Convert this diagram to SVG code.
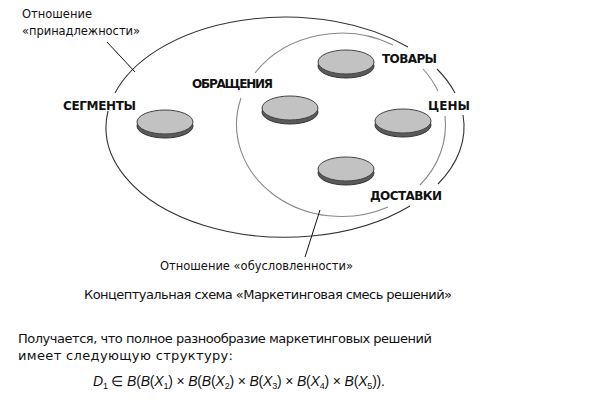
<svg xmlns="http://www.w3.org/2000/svg" width="591" height="413" viewBox="0 0 591 413">
<style>
.outer{fill:none;stroke:#333;stroke-width:1.1}
.inner{fill:none;stroke:#888;stroke-width:1.1}
.ptr{fill:none;stroke:#111;stroke-width:1}
.shadow{fill:#5a5a5a;stroke:#333;stroke-width:1}
.face{fill:#c2c2c2;stroke:#444;stroke-width:1}
.lbl{font-family:"DejaVu Sans",sans-serif;font-weight:bold;font-size:12px;fill:#111}
.ann{font-family:"DejaVu Sans",sans-serif;font-size:11.5px;fill:#111}
.txt{font-family:"DejaVu Sans",sans-serif;font-size:13px;fill:#111}
.fm{font-family:"Liberation Sans",sans-serif;font-size:14px;fill:#111}
.it{font-style:italic}
.sub{font-size:9px}
</style>
<defs>
<g id="disc">
<ellipse class="shadow" cx="0" cy="4" rx="28" ry="12"/>
<ellipse class="face" cx="0" cy="0" rx="28" ry="12"/>
</g>
</defs>
<g id="connectors">
<path class="outer" d="M115,93 A179,110 0 0 1 408,47"/>
<path class="outer" d="M437,69 A179,110 0 0 1 455,93"/>
<path class="outer" d="M463,115 A179,110 0 0 1 438,184"/>
<path class="outer" d="M410,206 A179,110 0 0 1 108,111"/>
<path class="inner" d="M255,73 A105,92 0 0 1 393,45"/>
<path class="inner" d="M423,69 A105,92 0 0 1 438,91"/>
<path class="inner" d="M445,116 A105,92 0 0 1 420,185"/>
<path class="inner" d="M388,207 A105,92 0 0 1 241,98"/>
<line class="ptr" x1="107" y1="42" x2="135" y2="72"/>
<line class="ptr" x1="320" y1="210" x2="305" y2="257"/>
</g>
<g id="segments">
<use href="#disc" x="165" y="122"/>
<text class="lbl" x="63" y="110" textLength="73">СЕГМЕНТЫ</text>
</g>
<g id="obrashcheniya">
<use href="#disc" x="290" y="108"/>
<text class="lbl" x="192" y="88" textLength="81">ОБРАЩЕНИЯ</text>
</g>
<g id="tovary">
<use href="#disc" x="346" y="62"/>
<text class="lbl" x="382" y="63" textLength="55">ТОВАРЫ</text>
</g>
<g id="tseny">
<use href="#disc" x="403" y="121"/>
<text class="lbl" x="428" y="110" textLength="42">ЦЕНЫ</text>
</g>
<g id="dostavki">
<use href="#disc" x="346" y="169"/>
<text class="lbl" x="370" y="200" textLength="72">ДОСТАВКИ</text>
</g>
<g id="rel1">
<text class="ann" x="22" y="18" textLength="70">Отношение</text>
<text class="ann" x="22" y="35" textLength="118">«принадлежности»</text>
</g>
<g id="rel2">
<text class="ann" x="160" y="270" textLength="193">Отношение «обусловленности»</text>
</g>
<g id="caption">
<text class="txt" x="84" y="299" textLength="368">Концептуальная схема «Маркетинговая смесь решений»</text>
<text class="txt" x="18" y="343" textLength="414">Получается, что полное разнообразие маркетинговых решений</text>
<text class="txt" x="18" y="360" textLength="215">имеет следующую структуру:</text>
<text class="fm" x="93" y="386" textLength="292"><tspan class="it">D</tspan><tspan class="sub" dy="3">1</tspan><tspan dy="-3"> ∈ </tspan><tspan class="it">B</tspan>(<tspan class="it">B</tspan>(<tspan class="it">X</tspan><tspan class="sub" dy="3">1</tspan><tspan dy="-3">) × </tspan><tspan class="it">B</tspan>(<tspan class="it">B</tspan>(<tspan class="it">X</tspan><tspan class="sub" dy="3">2</tspan><tspan dy="-3">) × </tspan><tspan class="it">B</tspan>(<tspan class="it">X</tspan><tspan class="sub" dy="3">3</tspan><tspan dy="-3">) × </tspan><tspan class="it">B</tspan>(<tspan class="it">X</tspan><tspan class="sub" dy="3">4</tspan><tspan dy="-3">) × </tspan><tspan class="it">B</tspan>(<tspan class="it">X</tspan><tspan class="sub" dy="3">5</tspan><tspan dy="-3">)).</tspan></text>
</g>
</svg>
